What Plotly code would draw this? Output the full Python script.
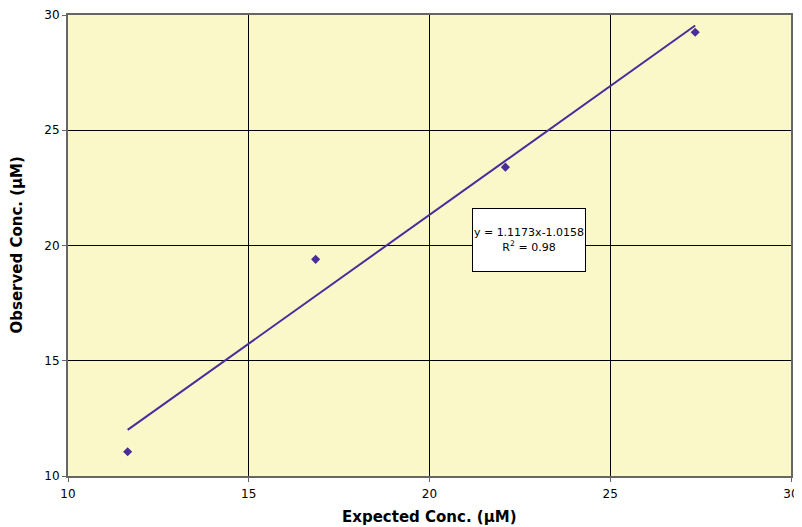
import plotly.graph_objects as go

expected = [11.65, 16.85, 22.1, 27.35]
observed = [11.05, 19.4, 23.4, 29.25]
slope = 1.1173
intercept = -1.0158
r2 = 0.98
x_ticks = [10, 15, 20, 25, 30]
y_ticks = [10, 15, 20, 25, 30]
x_title = "Expected Conc. (µM)"
y_title = "Observed Conc. (µM)"

color = "#4a2c9a"
font_family = "DejaVu Sans, Open Sans, sans-serif"
fit_x = [min(expected), max(expected)]
fit_y = [slope * v + intercept for v in fit_x]

fig = go.Figure()
fig.add_trace(go.Scatter(x=fit_x, y=fit_y, mode="lines",
                         line=dict(color=color, width=2), showlegend=False, hoverinfo="skip"))
fig.add_trace(go.Scatter(x=expected, y=observed, mode="markers",
                         marker=dict(symbol="diamond", size=7, color=color), showlegend=False))

fig.add_annotation(x=22.75, y=20.25, xref="x", yref="y", showarrow=False,
                   text=f"y = {slope}x{intercept}<br>R<sup>2</sup> = {r2}",
                   align="center", bgcolor="white", bordercolor="black", borderwidth=1,
                   width=110, height=60,
                   font=dict(family=font_family, size=11, color="black"))

fig.add_annotation(x=0.5, y=0.0, xref="paper", yref="paper", yshift=-41,
                   showarrow=False, text=f"<b>{x_title}</b>", yanchor="middle",
                   font=dict(family=font_family, size=15, color="black"))
fig.add_annotation(x=0, y=0.5, xref="paper", yref="paper", xshift=-52,
                   showarrow=False, text=f"<b>{y_title}</b>", textangle=-90, xanchor="center",
                   font=dict(family=font_family, size=15, color="black"))

axis_common = dict(showgrid=True, gridcolor="black", gridwidth=1, zeroline=False,
                   showline=True, linecolor="#666666", linewidth=2, mirror=True,
                   ticks="outside", ticklen=4, tickcolor="#666666", automargin=False,
                   tickfont=dict(family=font_family, size=12, color="black"))

fig.update_xaxes(range=[10, 30], tickvals=x_ticks, ticklabelstandoff=2, **axis_common)
fig.update_yaxes(range=[10, 30], tickvals=y_ticks, **axis_common)

# page body has an 8px default margin, so the figure is drawn 8px in from the top-left
fig.update_layout(width=794, height=519, margin=dict(l=60, r=11, t=7, b=51, autoexpand=False),
                  plot_bgcolor="#faf7c9", paper_bgcolor="white")
fig.write_html("out.html")
